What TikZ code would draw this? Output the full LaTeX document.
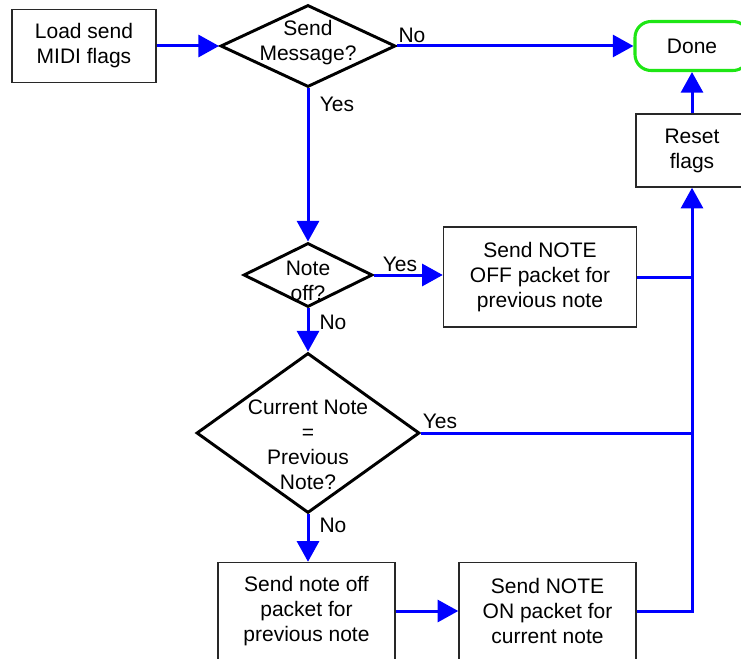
\documentclass[tikz,border=0pt]{standalone}
\usepackage{fontspec}
\setmainfont{Liberation Sans}
\usetikzlibrary{shapes.geometric,arrows.meta}
\definecolor{doneGreen}{RGB}{30,230,20}
\definecolor{boxLine}{RGB}{40,40,40}
\begin{document}
\begin{tikzpicture}[x=0.75pt,y=-0.75pt,
  font=\fontsize{15.75pt}{18.75pt}\selectfont,
  box/.style={draw=boxLine, line width=1.1pt, fill=white, align=center, inner sep=0pt},
  dia/.style={draw=black, line width=2.2pt, diamond, inner sep=0pt},
  term/.style={draw=doneGreen, line width=2.3pt, rounded corners=12pt, fill=white, inner sep=0pt},
  txt/.style={align=center, inner sep=0pt},
  flow/.style={draw=blue, line width=2.25pt, -{Triangle[length=15.5pt,width=16.5pt]}},
  link/.style={draw=blue, line width=2.25pt},
  lbl/.style={inner sep=0pt}
]
\useasboundingbox (0,0) rectangle (741,659);

% process boxes
\node[box, minimum width=108pt, minimum height=54.75pt] (load) at (84,46) {Load send\\MIDI flags};
\node[term, minimum width=85.5pt, minimum height=36.75pt] (done) at (692,46) {Done};
\node[box, minimum width=84pt, minimum height=54.75pt] (reset) at (692,150.5) {Reset\\flags};
\node[box, minimum width=144.75pt, minimum height=75pt] (offbox) at (540,277) {Send NOTE\\OFF packet for\\previous note};
\node[box, minimum width=132.75pt, minimum height=72.75pt] (nbox) at (306.5,611) {Send note off\\packet for\\previous note};
\node[box, minimum width=132.75pt, minimum height=72.75pt] (onbox) at (547.5,611) {Send NOTE\\ON packet for\\current note};

% decisions
\node[dia, minimum width=131.25pt, minimum height=61.5pt] (d1) at (308,46) {};
\node[txt] (d1t) at (308,43) {Send\\Message?};
\node[dia, minimum width=96.75pt, minimum height=48pt] (d2) at (308,275) {};
\node[txt] (d2t) at (308,281) {Note\\off?};
\node[dia, minimum width=167.25pt, minimum height=120pt] (d3) at (308,433) {};
\node[txt] (d3t) at (308,444.5) {Current Note\\=\\Previous\\Note?};

% connectors
\draw[flow] (load) -- (d1);
\draw[flow] (d1.east) -- (d1.east -| done.west);
\draw[flow] (reset) -- (done);
\draw[flow] (d1) -- (d2);
\draw[flow] (d2.east) -- (d2.east -| offbox.west);
\draw[flow] (d2) -- (d3);
\draw[flow] (d3.south) -- (d3.south |- nbox.north);
\draw[flow] (nbox) -- (onbox);
\draw[flow] (onbox.east) -| (reset.south);
\draw[link] (offbox.east) -- (offbox.east -| reset.south);
\draw[link] (d3.east) -- (d3.east -| reset.south);

% branch labels
\node[lbl] (no1) at (412,35) {No};
\node[lbl] (yes1) at (337,104) {Yes};
\node[lbl] (yes2) at (400,264) {Yes};
\node[lbl] (no2) at (333,322) {No};
\node[lbl] (yes3) at (440,421) {Yes};
\node[lbl] (no3) at (333,525) {No};
\end{tikzpicture}
\end{document}
